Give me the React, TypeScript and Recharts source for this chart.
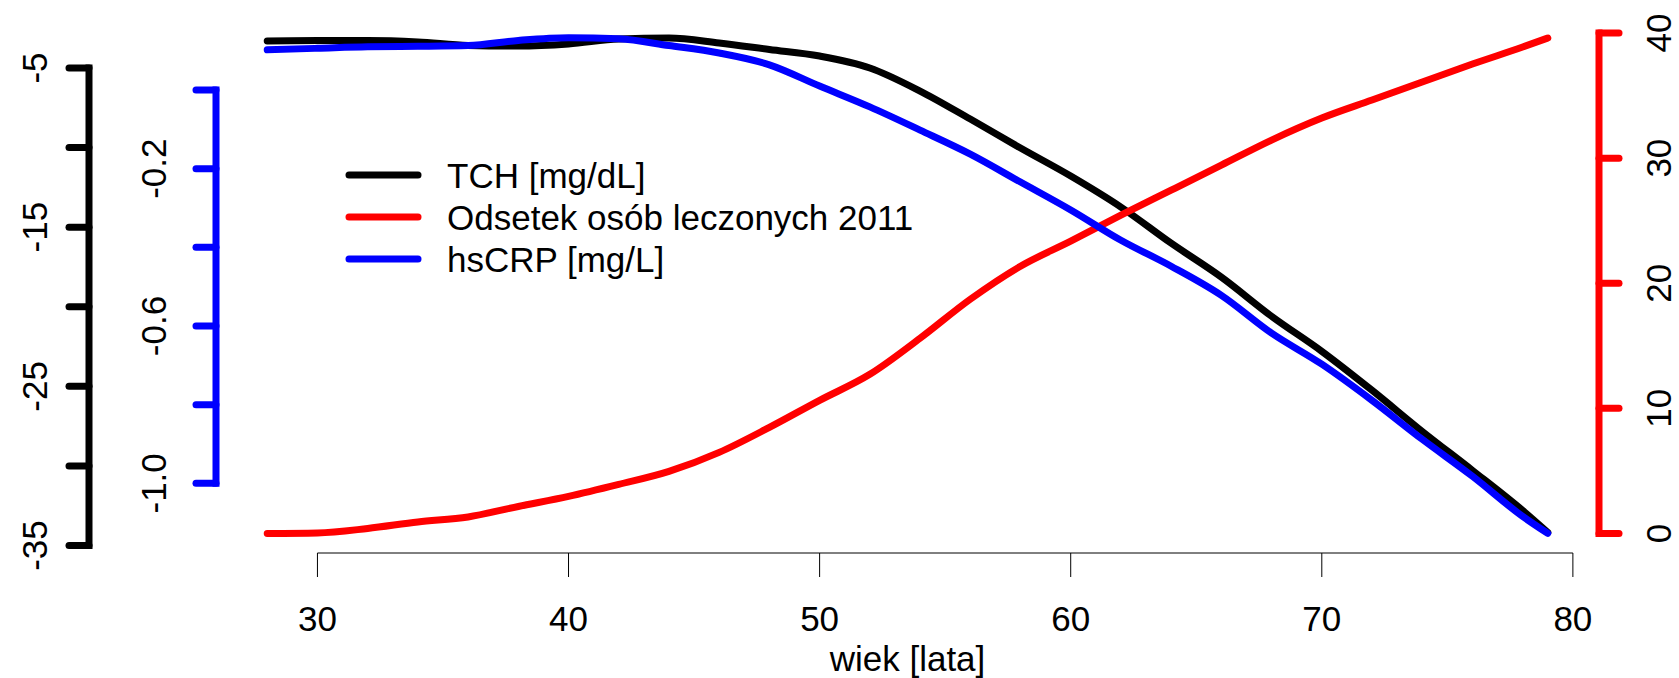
import React from 'react'
import { LineChart, Line, XAxis, YAxis, ReferenceLine, Legend } from 'recharts'

// age groups (years)
const AGES = [28, 30, 32, 34, 36, 38, 40, 42, 44, 46, 48, 50, 52, 54, 56, 58, 60, 62, 64, 66, 68, 70, 72, 74, 76, 78, 79]

// TCH [mg/dL]
const TCH = [
  -3.3, -3.27, -3.27, -3.36, -3.58, -3.62, -3.49, -3.18, -3.11, -3.43, -3.84, -4.25, -5.0, -6.45,
  -8.21, -10.03, -11.79, -13.74, -16.01, -18.14, -20.6, -22.8, -25.25, -27.83, -30.28, -32.8, -34.18,
]

// share of treated persons, 2011 (%)
const TREATED = [
  0, 0.04, 0.4, 0.92, 1.32, 2.16, 2.96, 3.92, 4.96, 6.48, 8.48, 10.64, 12.72, 15.6, 18.72, 21.36,
  23.36, 25.44, 27.44, 29.44, 31.44, 33.2, 34.64, 36.08, 37.52, 38.88, 39.6,
]

// hsCRP [mg/L]
const HSCRP = [
  0.102, 0.106, 0.11, 0.111, 0.113, 0.126, 0.133, 0.13, 0.113, 0.094, 0.064, 0.01, -0.043, -0.102,
  -0.163, -0.234, -0.305, -0.382, -0.448, -0.522, -0.618, -0.697, -0.789, -0.888, -0.982, -1.084, -1.127,
]

const AGE_TICKS = [30, 40, 50, 60, 70, 80]
const TCH_TICKS = [-5, -10, -15, -20, -25, -30, -35]
const TCH_LABELS = [-5, -15, -25, -35]
const CRP_TICKS = [0, -0.2, -0.4, -0.6, -0.8, -1.0]
const CRP_LABELS = [-0.2, -0.6, -1.0]
const PCT_TICKS = [0, 10, 20, 30, 40]

// axis ranges (data range padded by 4%, like base R)
const X_DOMAIN: [number, number] = [25.96, 81.04]
const TCH_DOMAIN: [number, number] = [-35.47, -1.86]
const CRP_DOMAIN: [number, number] = [-1.177, 0.183]
const PCT_DOMAIN: [number, number] = [-1.56, 41.2]

const SERIES = [
  { key: 'tch', axis: 'tch', name: 'TCH [mg/dL]', color: '#000000' },
  { key: 'treated', axis: 'pct', name: 'Odsetek osób leczonych 2011', color: '#ff0000' },
  { key: 'crp', axis: 'crp', name: 'hsCRP [mg/L]', color: '#0000ff' },
]

const rows = AGES.map((age, i) => ({ age, tch: TCH[i], treated: TREATED[i], crp: HSCRP[i] }))

const FONT = '"Liberation Sans", Arial, sans-serif'
const FS = 35
const LW = 7
const CRP_WIDTH = 127
const TCH_WIDTH = 89

const XTick = (props: any) => {
  const { x, y, payload } = props
  return (
    <text x={x} y={y + 54} textAnchor="middle" fontSize={FS} fontFamily={FONT} fill="#000">
      {payload.value}
    </text>
  )
}

// rotated y labels, only for the values listed in `show`
const makeYTick = (show: number[] | null, shift: number, fmt: (v: number) => string) => (props: any) => {
  const { x, y, payload } = props
  if (show && !show.includes(payload.value)) return <g />
  const bx = x + shift
  return (
    <text
      x={bx}
      y={y}
      transform={`rotate(-90 ${bx} ${y})`}
      textAnchor="middle"
      fontSize={FS}
      fontFamily={FONT}
      fill="#000"
    >
      {fmt(payload.value)}
    </text>
  )
}

const spine = (color: string, dx: number) => (props: any) => (
  <line
    x1={props.x1 + dx}
    y1={props.y1}
    x2={props.x2 + dx}
    y2={props.y2}
    stroke={color}
    strokeWidth={LW}
    strokeLinecap="square"
  />
)

const LegendBox = () => (
  <svg width={620} height={150} style={{ display: 'block' }}>
    {SERIES.map((s, i) => (
      <g key={s.key}>
        <line x1={9} x2={78} y1={35 + i * 42} y2={35 + i * 42} stroke={s.color} strokeWidth={LW} strokeLinecap="round" />
        <text x={107} y={48 + i * 42} fontSize={FS} fontFamily={FONT} fill="#000">
          {s.name}
        </text>
      </g>
    ))}
  </svg>
)

export default function App() {
  return (
    <div style={{ position: 'absolute', left: 0, top: 0, background: '#fff' }}>
      <LineChart width={1679} height={678} data={rows} margin={{ top: 18, right: 0, bottom: 0, left: 0 }}>
        <XAxis
          dataKey="age"
          type="number"
          domain={X_DOMAIN}
          allowDataOverflow
          ticks={AGE_TICKS}
          interval={0}
          height={125}
          axisLine={false}
          tickLine={{ stroke: '#000', strokeWidth: 1 }}
          tickSize={24}
          tickMargin={0}
          tick={<XTick />}
          label={{ value: 'wiek [lata]', position: 'insideBottom', offset: 7, fontSize: FS, fontFamily: FONT, fill: '#000' }}
        />
        <YAxis
          yAxisId="crp"
          orientation="left"
          width={CRP_WIDTH}
          domain={CRP_DOMAIN}
          allowDataOverflow
          ticks={CRP_TICKS}
          interval={0}
          axisLine={false}
          tickLine={{ stroke: '#0000ff', strokeWidth: LW, strokeLinecap: 'round' }}
          tickSize={20}
          tickMargin={0}
          tick={makeYTick(CRP_LABELS, -30, (v) => v.toFixed(1))}
        />
        <YAxis
          yAxisId="tch"
          orientation="left"
          width={TCH_WIDTH}
          domain={TCH_DOMAIN}
          allowDataOverflow
          ticks={TCH_TICKS}
          interval={0}
          axisLine={false}
          tickLine={{ stroke: '#000', strokeWidth: LW, strokeLinecap: 'round' }}
          tickSize={20}
          tickMargin={0}
          tick={makeYTick(TCH_LABELS, -22, (v) => String(v))}
        />
        <YAxis
          yAxisId="pct"
          orientation="right"
          width={80}
          domain={PCT_DOMAIN}
          allowDataOverflow
          ticks={PCT_TICKS}
          interval={0}
          axisLine={false}
          tickLine={{ stroke: '#ff0000', strokeWidth: LW, strokeLinecap: 'round' }}
          tickSize={20}
          tickMargin={0}
          tick={makeYTick(null, 52, (v) => String(v))}
        />

        {/* axis lines that run only between the outer ticks */}
        <ReferenceLine
          yAxisId="pct"
          segment={[{ x: AGE_TICKS[0], y: PCT_DOMAIN[0] }, { x: AGE_TICKS[AGE_TICKS.length - 1], y: PCT_DOMAIN[0] }]}
          ifOverflow="visible"
          stroke="#000"
          strokeWidth={1}
        />
        <ReferenceLine
          yAxisId="crp"
          segment={[{ x: X_DOMAIN[0], y: CRP_TICKS[0] }, { x: X_DOMAIN[0], y: CRP_TICKS[CRP_TICKS.length - 1] }]}
          ifOverflow="visible"
          shape={spine('#0000ff', 0)}
        />
        <ReferenceLine
          yAxisId="tch"
          segment={[{ x: X_DOMAIN[0], y: TCH_TICKS[0] }, { x: X_DOMAIN[0], y: TCH_TICKS[TCH_TICKS.length - 1] }]}
          ifOverflow="visible"
          shape={spine('#000000', -CRP_WIDTH)}
        />
        <ReferenceLine
          yAxisId="pct"
          segment={[{ x: X_DOMAIN[1], y: PCT_TICKS[0] }, { x: X_DOMAIN[1], y: PCT_TICKS[PCT_TICKS.length - 1] }]}
          ifOverflow="visible"
          shape={spine('#ff0000', 0)}
        />

        {SERIES.map((s) => (
          <Line
            key={s.key}
            yAxisId={s.axis}
            dataKey={s.key}
            name={s.name}
            type="monotone"
            stroke={s.color}
            strokeWidth={LW}
            strokeLinecap="round"
            strokeLinejoin="round"
            dot={false}
            activeDot={false}
            isAnimationActive={false}
          />
        ))}

        <Legend
          layout="vertical"
          align="center"
          verticalAlign="middle"
          content={<LegendBox />}
          wrapperStyle={{ left: 340, top: 140, width: 620, height: 150 }}
        />
      </LineChart>
    </div>
  )
}
